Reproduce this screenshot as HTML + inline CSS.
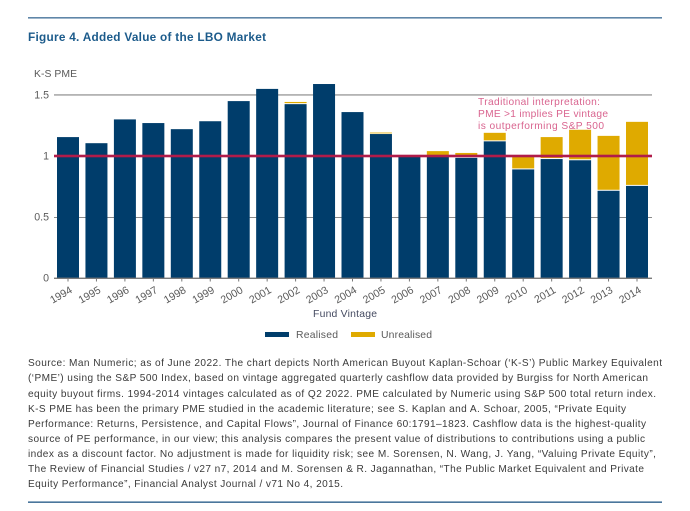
<!DOCTYPE html>
<html>
<head>
<meta charset="utf-8">
<title>Figure 4. Added Value of the LBO Market</title>
<style>
html,body{margin:0;padding:0;background:#fff;width:690px;height:511px;overflow:hidden}
svg{display:block;font-family:"Liberation Sans",Arial,sans-serif}
.note{font-size:10.1px;fill:#3a3a3a}
.axis-label{font-size:10.4px;fill:#5a5a5a}
.note-pink{font-size:10.2px;fill:#d9648f}
</style>
</head>
<body>
<svg id="figure" width="690" height="511" viewBox="0 0 690 511" xmlns="http://www.w3.org/2000/svg">
  <rect x="28" y="17" width="634" height="1.6" fill="#5f86a8"/>
  <text x="28" y="41" font-size="11.8px" font-weight="bold" fill="#1c5b8b" textLength="238">Figure 4. Added Value of the LBO Market</text>
  <text class="axis-label" x="34" y="77" textLength="43">K-S PME</text>
  <g id="grid"></g>
  <g id="bars"></g>
  <g id="refline"></g>
  <g id="yticks"></g>
  <g id="xticks"></g>
  <g>
    <text class="note-pink" x="478" y="105" textLength="122">Traditional interpretation:</text>
    <text class="note-pink" x="478" y="117" textLength="130">PME &gt;1 implies PE vintage</text>
    <text class="note-pink" x="478" y="129" textLength="126">is outperforming S&amp;P 500</text>
  </g>
  <text x="313" y="317" font-size="10.4px" fill="#444a60" textLength="64">Fund Vintage</text>
  <g>
    <g>
      <rect x="265" y="332" width="24" height="5" fill="#003d6b"/>
      <text class="axis-label" x="296" y="338" textLength="42">Realised</text>
    </g>
    <g>
      <rect x="351" y="332" width="24" height="5" fill="#dfaa00"/>
      <text class="axis-label" x="381" y="338" textLength="51">Unrealised</text>
    </g>
  </g>
  <g>
    <text class="note" x="28" y="366" textLength="634">Source: Man Numeric; as of June 2022. The chart depicts North American Buyout Kaplan-Schoar (‘K-S’) Public Markey Equivalent</text>
    <text class="note" x="28" y="381" textLength="620">(‘PME’) using the S&amp;P 500 Index, based on vintage aggregated quarterly cashflow data provided by Burgiss for North American</text>
    <text class="note" x="28" y="397" textLength="628">equity buyout firms. 1994-2014 vintages calculated as of Q2 2022. PME calculated by Numeric using S&amp;P 500 total return index.</text>
    <text class="note" x="28" y="412" textLength="598">K-S PME has been the primary PME studied in the academic literature; see S. Kaplan and A. Schoar, 2005, “Private Equity</text>
    <text class="note" x="28" y="427" textLength="618">Performance: Returns, Persistence, and Capital Flows”, Journal of Finance 60:1791–1823. Cashflow data is the highest-quality</text>
    <text class="note" x="28" y="442" textLength="617">source of PE performance, in our view; this analysis compares the present value of distributions to contributions using a public</text>
    <text class="note" x="28" y="457" textLength="628">index as a discount factor. No adjustment is made for liquidity risk; see M. Sorensen, N. Wang, J. Yang, “Valuing Private Equity”,</text>
    <text class="note" x="28" y="472" textLength="616">The Review of Financial Studies / v27 n7, 2014 and M. Sorensen &amp; R. Jagannathan, “The Public Market Equivalent and Private</text>
    <text class="note" x="28" y="487" textLength="315">Equity Performance”, Financial Analyst Journal / v71 No 4, 2015.</text>
  </g>
  <rect x="28" y="501.5" width="634" height="1.3" fill="#1d5584"/>
</svg>
<script>
const categories = ["1994","1995","1996","1997","1998","1999","2000","2001","2002","2003","2004","2005","2006","2007","2008","2009","2010","2011","2012","2013","2014"];
const realised = [1.155,1.105,1.30,1.27,1.22,1.285,1.45,1.55,1.425,1.59,1.36,1.18,1.0,0.995,0.985,1.12,0.89,0.975,0.965,0.715,0.755];
const unrealised = [0,0,0,0,0,0,0,0,0.018,0,0,0.012,0,0.045,0.04,0.07,0.115,0.18,0.25,0.45,0.525];
const yTicks = [0,0.5,1,1.5];
const yTickLabels = ["0","0.5","1","1.5"];
const referenceValue = 1;

const NS = "http://www.w3.org/2000/svg";
const plotLeft = 54, plotRight = 652;
function xScale(i){ return 68 + i * 28.45; }
function yScale(v){ return 278 - v * 122; }
function make(tag, attrs, parent){
  const el = document.createElementNS(NS, tag);
  for (const k in attrs) el.setAttribute(k, attrs[k]);
  parent.appendChild(el);
  return el;
}
const grid = document.getElementById("grid");
const bars = document.getElementById("bars");
const refline = document.getElementById("refline");
const yAxis = document.getElementById("yticks");
const xAxis = document.getElementById("xticks");

yTicks.forEach(function(t, i){
  const y = yScale(t);
  const line = make("rect", {x: plotLeft, y: t === 1.5 ? y - 1 : Math.round(y), width: plotRight - plotLeft, height: t === 1.5 ? 1.8 : 1, fill: t === 1.5 ? "#b4b4b4" : "#8a8a8a"}, grid);
  
  
  const label = make("text", {x: 49, y: y + 3.5, "text-anchor": "end", "font-size": "10.6px", fill: "#5a5a5a"}, yAxis);
  label.textContent = yTickLabels[i];
  
  
});

categories.forEach(function(c, i){
  const cx = xScale(i), w = 22;
  const r = realised[i], u = unrealised[i];
  const rTop = yScale(r);
  const realisedBar = make("rect", {x: cx - w / 2, y: rTop, width: w, height: yScale(0) - rTop, fill: "#003d6b"}, bars);
  
  
  if (u > 0) {
    const uTop = yScale(r + u);
    const unrealisedBar = make("rect", {x: cx - w / 2, y: uTop, width: w, height: Math.max(rTop - uTop - 1, 0.8), fill: "#dfaa00"}, bars);
    
    
  }
  const tick = make("rect", {x: cx - 0.5, y: 278, width: 1, height: 3.5, fill: "#777"}, xAxis);
  
  
  const tx = cx + 5, ty = 292;
  const label = make("text", {x: tx, y: ty, "text-anchor": "end", "font-size": "10.6px", fill: "#5a5a5a", transform: "rotate(-30 " + tx + " " + ty + ")"}, xAxis);
  label.textContent = c;
  
  
});

const axisLine = make("rect", {x: plotLeft, y: 277.6, width: plotRight - plotLeft, height: 1.2, fill: "#777"}, xAxis);



const halo = make("rect", {x: plotLeft, y: yScale(referenceValue) - 2, width: plotRight - plotLeft, height: 4, fill: "#b01c4a", opacity: 0.3}, refline);


const ref = make("rect", {x: plotLeft, y: yScale(referenceValue) - 1, width: plotRight - plotLeft, height: 2, fill: "#b01c4a"}, refline);


</script>
</body>
</html>
